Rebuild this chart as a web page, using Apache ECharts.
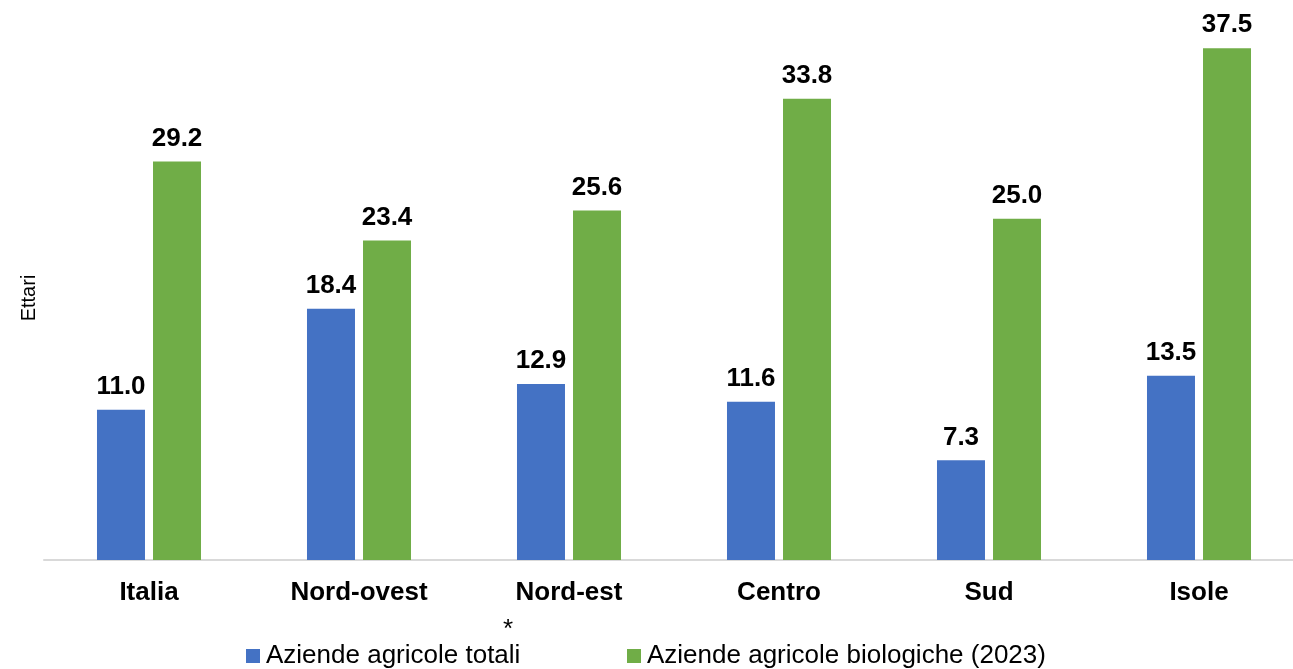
<!DOCTYPE html>
<html>
<head>
<meta charset="utf-8">
<script src="https://cdn.jsdelivr.net/npm/echarts@6/dist/echarts.min.js"></script>
<style>
html,body{margin:0;padding:0;background:#fff;}
#c{width:1293px;height:669px;}
</style>
</head>
<body>
<div id="c"></div>
<script>
const categories = ['Italia', 'Nord-ovest', 'Nord-est', 'Centro', 'Sud', 'Isole'];
const seriesNames = ['Aziende agricole totali', 'Aziende agricole biologiche (2023)'];
const totali = [11.0, 18.4, 12.9, 11.6, 7.3, 13.5];
const biologiche = [29.2, 23.4, 25.6, 33.8, 25.0, 37.5];
const yAxisName = 'Ettari';
const footnote = '*';

const FONT = 'Liberation Sans, Arial, sans-serif';
const chart = echarts.init(document.getElementById('c'), null, {renderer: 'canvas'});
const labelStyle = {
  show: true,
  position: 'top',
  distance: 10,
  fontFamily: FONT,
  fontWeight: 'bold',
  fontSize: 26,
  color: '#000',
  formatter: p => p.value.toFixed(1)
};
const legendCommon = {
  top: 643, icon: 'rect', padding: 0,
  itemWidth: 14, itemHeight: 14, itemGap: 0,
  textStyle: {fontFamily: FONT, fontSize: 26, color: '#000', padding: [0,0,0,1]}
};
chart.setOption({
  animation: false,
  backgroundColor: '#fff',
  grid: {left: 44, top: 14, width: 1260, bottom: 109, containLabel: false, outerBoundsMode: 'none'},
  legend: [
    Object.assign({data: [seriesNames[0]], left: 246}, legendCommon),
    Object.assign({data: [seriesNames[1]], left: 627}, legendCommon)
  ],
  xAxis: {
    type: 'category',
    data: categories,
    axisLine: {show: true, lineStyle: {color: '#d9d9d9', width: 2}},
    axisTick: {show: false},
    axisLabel: {
      margin: 20,
      fontFamily: FONT,
      fontWeight: 'bold', fontSize: 26, color: '#000'
    }
  },
  yAxis: {
    type: 'value', min: 0, max: 40,
    axisLine: {show: false}, axisTick: {show: false}, axisLabel: {show: false},
    splitLine: {show: false},
    name: yAxisName, nameLocation: 'middle', nameGap: 5,
    nameRotate: 90,
    nameTextStyle: {fontFamily: FONT, fontSize: 20, color: '#000', padding: [0, 22, 0, 0]}
  },
  series: [
    {name: seriesNames[0], type: 'bar', data: totali, barWidth: 48, barGap: '16.7%',
      itemStyle: {color: '#4472C4'}, label: labelStyle},
    {name: seriesNames[1], type: 'bar', data: biologiche, barWidth: 48,
      itemStyle: {color: '#70AD47'}, label: labelStyle}
  ],
  graphic: [{
    type: 'text', left: 503, top: 617,
    style: {text: footnote, fontFamily: FONT, fontSize: 26, fill: '#000'}
  }]
});
</script>
</body>
</html>
